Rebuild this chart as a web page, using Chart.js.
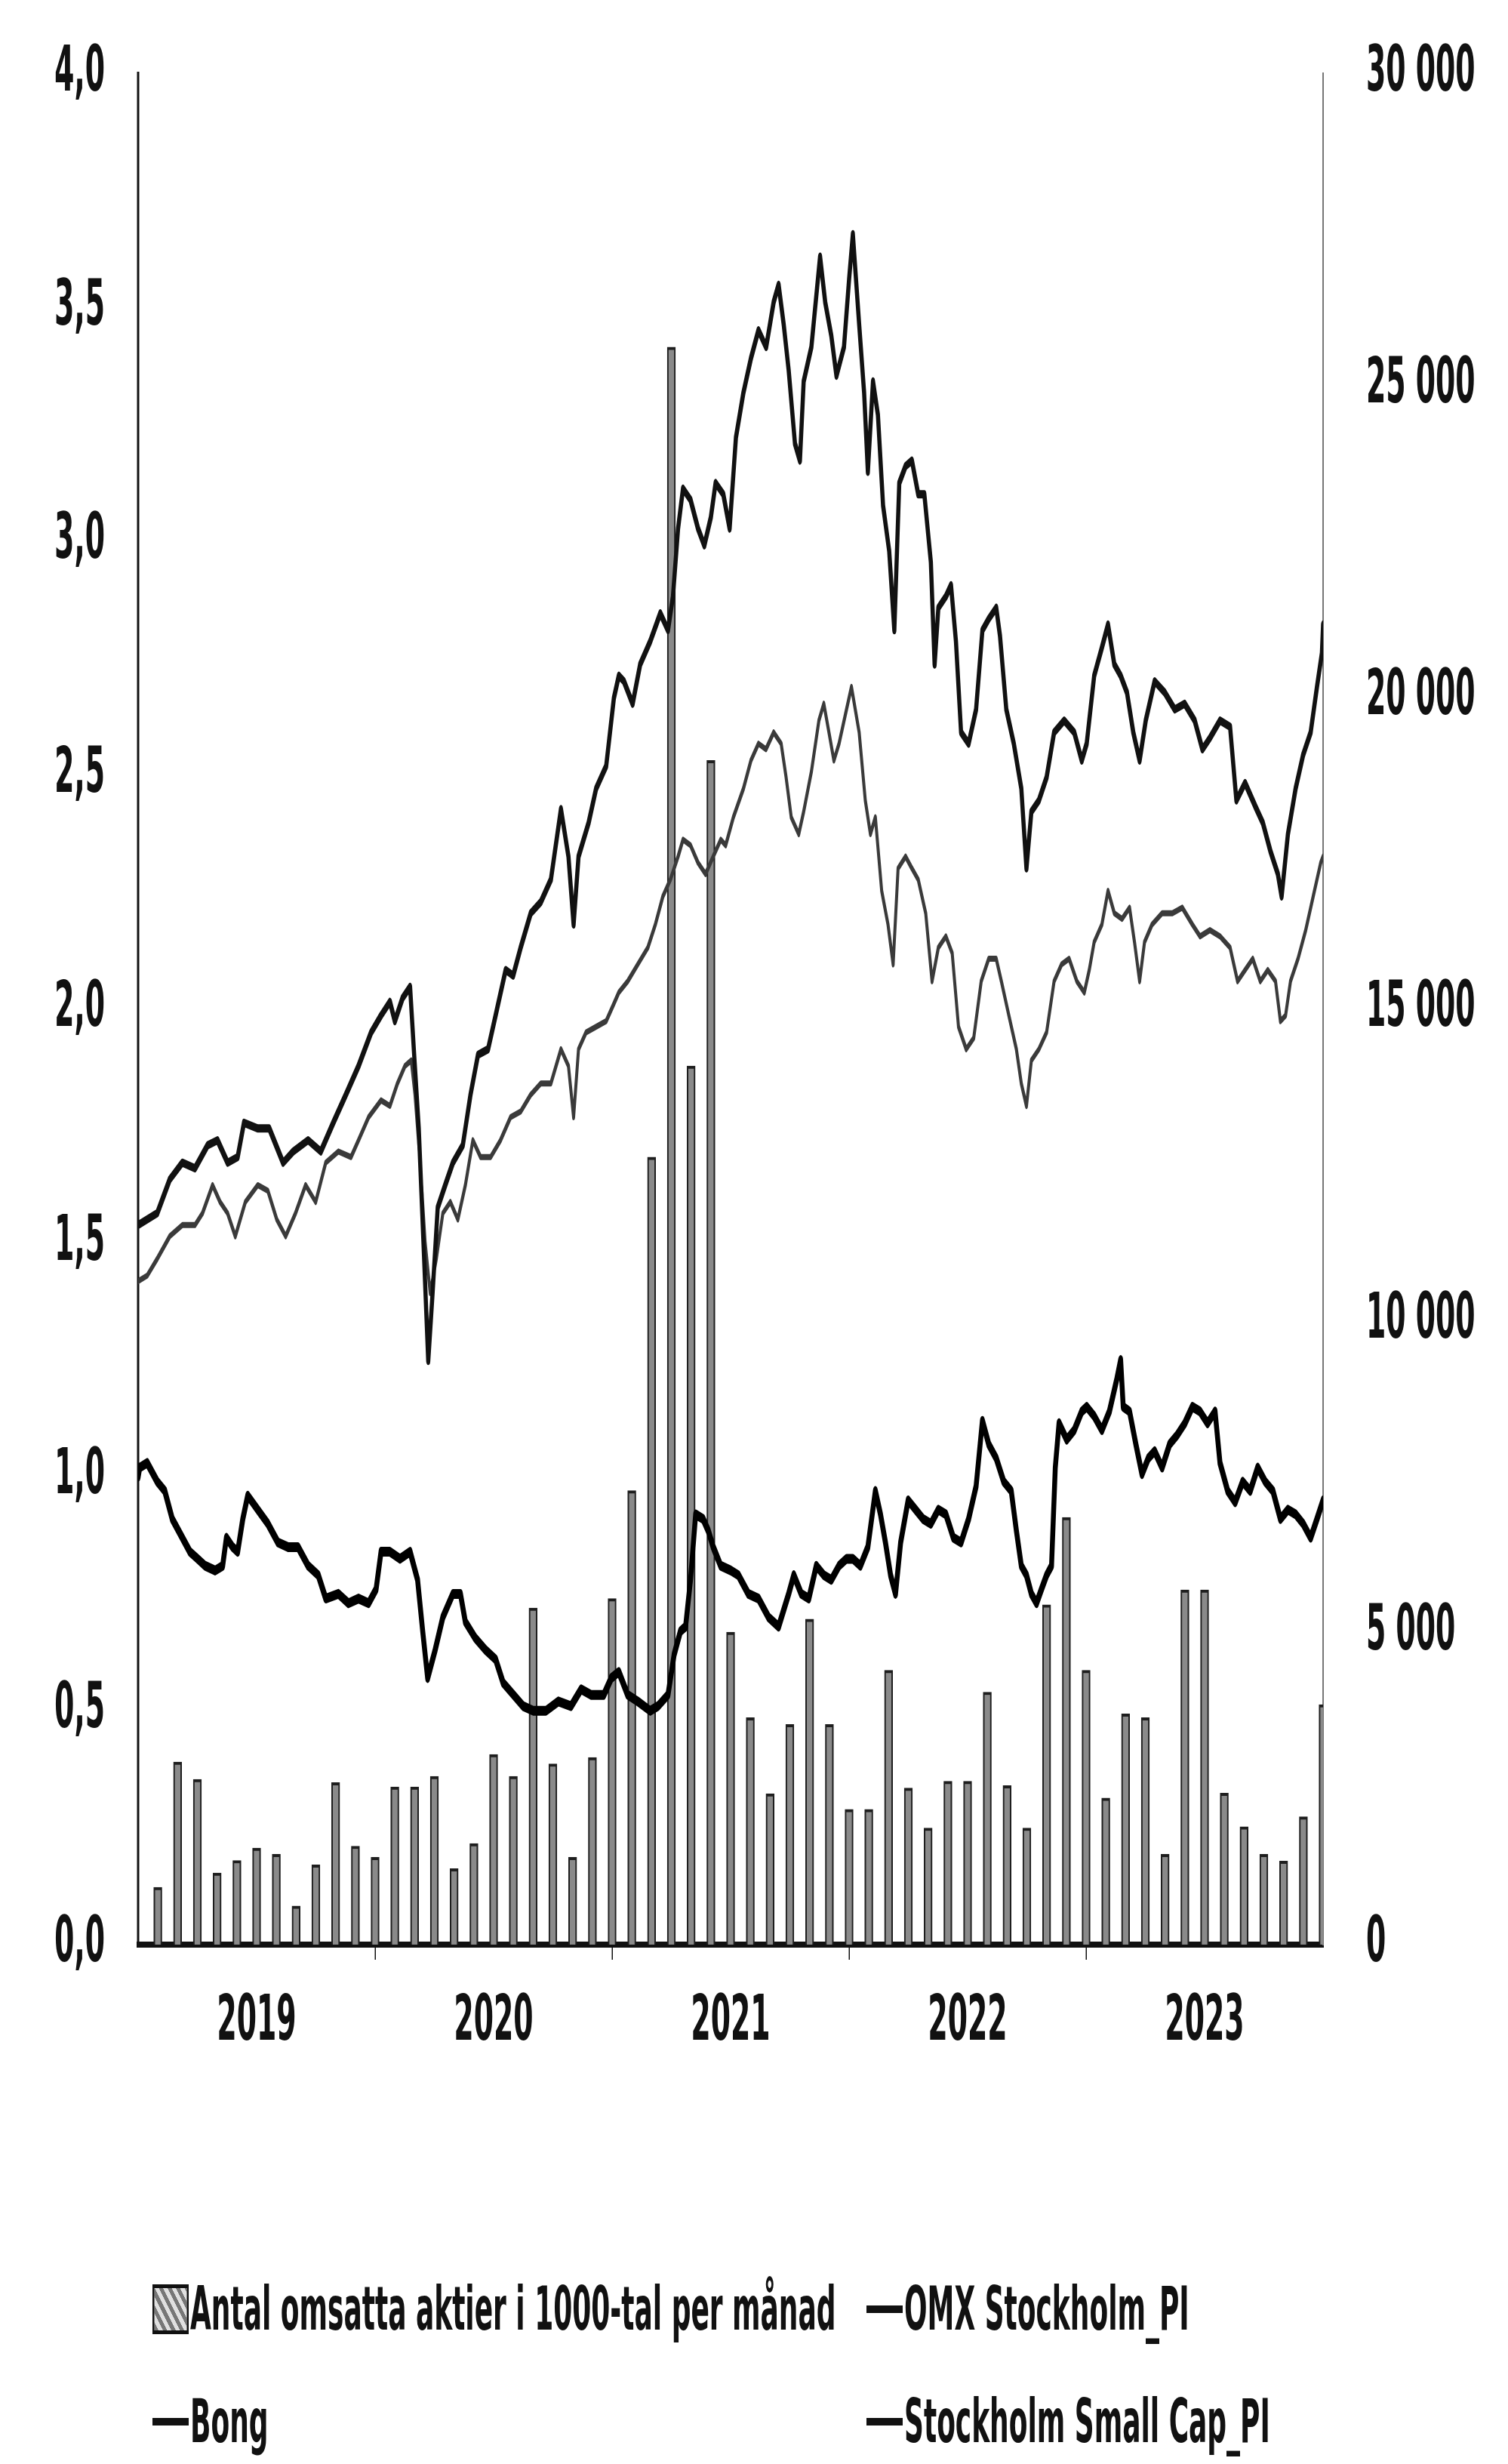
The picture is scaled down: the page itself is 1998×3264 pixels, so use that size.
<!DOCTYPE html>
<html>
<head>
<meta charset="utf-8">
<script src="https://cdn.jsdelivr.net/npm/chart.js@4.4.1/dist/chart.umd.min.js"></script>
<style>
  html, body { margin: 0; padding: 0; background: #fff; overflow: hidden; }
  body { width: 1998px; height: 3264px; position: relative; }
  /* the original picture is squeezed 2:1 horizontally, so draw wide and squeeze */
  #stretch { position: absolute; left: 0; top: 0; width: 3996px; height: 3264px; transform: scaleX(0.5); transform-origin: 0 0; }
  #chart { position: absolute; left: 0; top: 0; }
  .legend-item { position: absolute; display: flex; align-items: center; transform: translateY(-50%);
    font: bold 80px 'Liberation Sans Narrow', 'DejaVu Sans Condensed', 'Liberation Sans', sans-serif;
    color: #111; white-space: nowrap; line-height: 1; }
  .swatch-bar { width: 96px; height: 66px; box-sizing: border-box; border: 5px solid #111; margin-right: 4px;
    background: repeating-linear-gradient(45deg, #777 0 8px, #e0e0e0 8px 16px); }
  .swatch-line { width: 96px; height: 10px; background: #111; margin-right: 4px; }
</style>
</head>
<body>
<div id="stretch">
  <canvas id="chart" width="3996" height="3264"></canvas>
  <div class="legend-item" style="left:404px; top:3059px;"><span class="swatch-bar"></span>Antal omsatta aktier i 1000-tal per månad</div>
  <div class="legend-item" style="left:2296px; top:3059px;"><span class="swatch-line"></span>OMX Stockholm_PI</div>
  <div class="legend-item" style="left:404px; top:3208px;"><span class="swatch-line"></span>Bong</div>
  <div class="legend-item" style="left:2296px; top:3208px;"><span class="swatch-line"></span>Stockholm Small Cap_PI</div>
</div>
<script>
// x values are months since 1 Jan 2019 (0 = start of 2019, 60 = end of 2023)
const yearLabels = ['2019', '2020', '2021', '2022', '2023'];

// shares traded per month, in thousands (bar at each month end)
const volumeValues = [
    920, 2930, 2650, 1150, 1350, 1550, 1450, 620, 1280, 2600, 1580, 1400,
    2530, 2530, 2700, 1220, 1620, 3050, 2700, 5400, 2900, 1400, 3000, 5550,
    7280, 12630, 25620, 14090, 18990, 5010, 3640, 2420, 3530, 5220, 3530, 2170,
    2170, 4400, 2510, 1870, 2620, 2620, 4050, 2550, 1870, 5450, 6850, 4400,
    2350, 3700, 3640, 1450, 5690, 5690, 2430, 1890, 1450, 1340, 2050, 3850
];

// Bong share price, left axis
const bongPoints = [
    [0, 1.00], [0.08, 1.02], [0.46, 1.03], [0.97, 0.99], [1.35, 0.97], [1.73, 0.91], [2.24, 0.87], [2.62, 0.84],
    [3.01, 0.825], [3.39, 0.81], [3.9, 0.80], [4.28, 0.81], [4.47, 0.87], [4.79, 0.85], [5.04, 0.84], [5.3, 0.91],
    [5.55, 0.96], [6.06, 0.93], [6.57, 0.90], [7.08, 0.86], [7.59, 0.85], [8.1, 0.85], [8.61, 0.81], [9.12, 0.79],
    [9.5, 0.74], [10.14, 0.75], [10.65, 0.73], [11.16, 0.74], [11.67, 0.73], [12.05, 0.76], [12.3, 0.84],
    [12.75, 0.84], [13.26, 0.825], [13.77, 0.84], [14.15, 0.78], [14.41, 0.67], [14.66, 0.57], [15.04, 0.63],
    [15.43, 0.70], [15.94, 0.75], [16.32, 0.75], [16.57, 0.69], [17.08, 0.655], [17.59, 0.63], [18.1, 0.61],
    [18.48, 0.56], [18.99, 0.535], [19.5, 0.51], [20.01, 0.50], [20.65, 0.50], [21.28, 0.52], [21.92, 0.51],
    [22.43, 0.546], [22.94, 0.534], [23.58, 0.534], [23.96, 0.57], [24.34, 0.583],
    [24.79, 0.534], [25.3, 0.52], [25.93, 0.50], [26.32, 0.51], [26.83, 0.534], [27.14, 0.62], [27.46, 0.67],
    [27.72, 0.68], [27.97, 0.78], [28.23, 0.92], [28.61, 0.91], [28.87, 0.885], [29.12, 0.85], [29.5, 0.81],
    [30.01, 0.80], [30.39, 0.79], [30.9, 0.75], [31.41, 0.74], [31.92, 0.70], [32.43, 0.68], [32.94, 0.75],
    [33.2, 0.79], [33.58, 0.75], [33.96, 0.74], [34.34, 0.81], [34.72, 0.79], [35.1, 0.78], [35.49, 0.81], [35.87, 0.825],
    [36.19, 0.825], [36.57, 0.81], [36.95, 0.85], [37.33, 0.97], [37.59, 0.92], [37.84, 0.86], [38.1, 0.79],
    [38.35, 0.75], [38.61, 0.86], [38.99, 0.95], [39.37, 0.93], [39.75, 0.91], [40.14, 0.90], [40.52, 0.93],
    [40.9, 0.92], [41.28, 0.87], [41.67, 0.86], [42.05, 0.91], [42.43, 0.98], [42.75, 1.12], [43.07, 1.07],
    [43.45, 1.04], [43.83, 0.99], [44.21, 0.97], [44.47, 0.885], [44.72, 0.81], [44.98, 0.79], [45.23, 0.75],
    [45.49, 0.73], [45.74, 0.76], [46.0, 0.79], [46.25, 0.81], [46.44, 1.02], [46.63, 1.115], [47.02, 1.08],
    [47.4, 1.10], [47.78, 1.14],
    [48.03, 1.15], [48.41, 1.13], [48.8, 1.10], [49.18, 1.14], [49.56, 1.21], [49.75, 1.25], [49.88, 1.15],
    [50.2, 1.14], [50.52, 1.07], [50.83, 1.006], [51.15, 1.04], [51.47, 1.055], [51.85, 1.02], [52.23, 1.07],
    [52.62, 1.09], [53.0, 1.115], [53.38, 1.15], [53.77, 1.14], [54.15, 1.115], [54.53, 1.14], [54.78, 1.03],
    [55.17, 0.97], [55.55, 0.946], [55.93, 0.99], [56.31, 0.97], [56.69, 1.02], [57.07, 0.99], [57.46, 0.97],
    [57.84, 0.91], [58.22, 0.93], [58.61, 0.92], [58.99, 0.90], [59.37, 0.87], [59.69, 0.91], [60, 0.95]
];

// OMX Stockholm_PI, right axis
const omxPoints = [
    [0, 10640], [0.46, 10730], [0.97, 11000], [1.6, 11360], [2.24, 11540], [2.88, 11540], [3.26, 11730],
    [3.77, 12180], [4.15, 11910], [4.53, 11730], [4.92, 11360], [5.43, 11910], [6.06, 12180], [6.57, 12090],
    [7.02, 11630], [7.47, 11360], [7.97, 11730], [8.48, 12180], [8.99, 11910], [9.5, 12540], [10.14, 12720],
    [10.78, 12630], [11.16, 12900], [11.67, 13270], [12.3, 13540],
    [12.75, 13450], [13.13, 13810], [13.51, 14090], [13.83, 14180], [14.02, 13630], [14.28, 12540], [14.53, 11270],
    [14.79, 10450], [15.1, 11000], [15.43, 11730], [15.81, 11910], [16.19, 11630], [16.57, 12180], [16.95, 12900],
    [17.34, 12630], [17.85, 12630], [18.35, 12900], [18.86, 13270], [19.37, 13360], [19.88, 13630], [20.39, 13810],
    [20.9, 13810], [21.41, 14360], [21.79, 14090], [22.05, 13270], [22.3, 14360], [22.68, 14630], [23.19, 14720],
    [23.7, 14810], [24.09, 15090], [24.34, 15270],
    [24.79, 15450], [25.3, 15720], [25.81, 15990], [26.19, 16360], [26.57, 16810], [26.95, 17080], [27.34, 17450],
    [27.59, 17720], [27.97, 17630], [28.35, 17350], [28.73, 17170], [29.12, 17450], [29.5, 17720], [29.75, 17630],
    [30.14, 18080], [30.65, 18540], [31.03, 18990], [31.41, 19260], [31.79, 19170], [32.18, 19440], [32.56, 19260],
    [32.81, 18720], [33.07, 18080], [33.45, 17810], [33.7, 18170], [34.09, 18810], [34.47, 19630], [34.72, 19900],
    [34.98, 19440], [35.23, 18990], [35.49, 19260], [35.87, 19810], [36.12, 20170],
    [36.51, 19440], [36.82, 18350], [37.08, 17810], [37.33, 18080], [37.65, 16900], [37.97, 16360], [38.23, 15720],
    [38.48, 17260], [38.86, 17450], [39.18, 17260], [39.5, 17080], [39.88, 16540], [40.2, 15450], [40.52, 15990],
    [40.9, 16170], [41.22, 15900], [41.54, 14720], [41.93, 14360], [42.31, 14540], [42.69, 15450], [43.07, 15810],
    [43.45, 15810], [43.71, 15450], [44.09, 14900], [44.47, 14360], [44.72, 13810], [44.98, 13450], [45.23, 14180],
    [45.61, 14360], [46.0, 14630], [46.38, 15450], [46.76, 15720], [47.14, 15810], [47.53, 15450], [47.91, 15270],
    [48.16, 15630], [48.41, 16080], [48.8, 16360], [49.11, 16900], [49.43, 16540], [49.82, 16450], [50.2, 16630],
    [50.45, 16080], [50.71, 15450], [50.96, 16080], [51.34, 16360], [51.85, 16540], [52.36, 16540], [52.87, 16630],
    [53.38, 16360], [53.77, 16170], [54.27, 16270], [54.78, 16170], [55.29, 15990], [55.67, 15450], [56.05, 15630],
    [56.44, 15810], [56.82, 15450], [57.2, 15630], [57.59, 15450], [57.84, 14810], [58.1, 14900], [58.35, 15450],
    [58.73, 15810], [59.12, 16270], [59.5, 16810], [59.88, 17350], [60, 17450]
];

// Stockholm Small Cap_PI, right axis
const smallCapPoints = [
    [0, 11540], [0.97, 11730], [1.6, 12270], [2.24, 12540], [2.88, 12450], [3.52, 12820], [4.02, 12900],
    [4.53, 12540], [5.04, 12630], [5.36, 13180], [6.06, 13090], [6.64, 13090], [7.34, 12540], [7.85, 12720],
    [8.61, 12900], [9.25, 12720], [9.88, 13180], [10.52, 13630], [11.16, 14090], [11.8, 14630], [12.3, 14900],
    [12.75, 15120], [13.0, 14810], [13.39, 15180], [13.77, 15360], [13.96, 14360], [14.21, 13090], [14.47, 11090],
    [14.69, 9360], [14.91, 10450], [15.17, 11820], [15.55, 12180], [15.94, 12540], [16.44, 12820], [16.83, 13630],
    [17.21, 14270], [17.72, 14360], [18.1, 14900], [18.61, 15630], [18.99, 15540], [19.37, 15990], [19.88, 16540],
    [20.39, 16720], [20.9, 17080], [21.41, 18210], [21.79, 17450], [22.05, 16360], [22.3, 17450], [22.81, 17990],
    [23.19, 18540], [23.7, 18900], [24.09, 19990], [24.34, 20350],
    [24.6, 20260], [25.04, 19900], [25.42, 20530], [25.93, 20900], [26.44, 21350], [26.83, 21080], [27.08, 21620],
    [27.34, 22710], [27.59, 23350], [27.97, 23170], [28.35, 22710], [28.67, 22440], [29.0, 22890], [29.24, 23440],
    [29.63, 23260], [29.95, 22710], [30.27, 24170], [30.65, 24890], [31.03, 25440], [31.41, 25890], [31.8, 25620],
    [32.18, 26340], [32.43, 26620], [32.69, 25980], [32.94, 25250], [33.26, 24070], [33.51, 23800], [33.7, 25070],
    [34.09, 25620], [34.53, 27070], [34.79, 26340], [35.1, 25800], [35.36, 25160], [35.74, 25620], [36.0, 26710],
    [36.19, 27430],
    [36.51, 25980], [36.76, 24890], [36.95, 23620], [37.21, 25070], [37.46, 24530], [37.72, 23080], [38.03, 22350],
    [38.29, 21080], [38.54, 23440], [38.86, 23710], [39.18, 23800], [39.5, 23260], [39.81, 23260], [40.14, 22170],
    [40.33, 20530], [40.52, 21440], [40.9, 21620], [41.16, 21800], [41.41, 20900], [41.67, 19440], [42.05, 19260],
    [42.43, 19810], [42.75, 21080], [43.07, 21260], [43.45, 21440], [43.64, 20990], [43.96, 19810], [44.34, 19260],
    [44.72, 18540], [44.98, 17260], [45.23, 18170], [45.61, 18350], [46.0, 18720], [46.38, 19440], [46.89, 19630],
    [47.4, 19440], [47.78, 18990],
    [48.03, 19260], [48.41, 20350], [48.8, 20800], [49.11, 21170], [49.43, 20530], [49.75, 20350], [50.07, 20080],
    [50.39, 19440], [50.71, 18990], [51.02, 19630], [51.47, 20260], [51.98, 20080], [52.49, 19810], [52.99, 19900],
    [53.5, 19630], [53.89, 19170], [54.27, 19350], [54.78, 19630], [55.29, 19530], [55.61, 18350], [56.05, 18630],
    [56.56, 18260], [56.95, 17990], [57.33, 17540], [57.71, 17170], [57.9, 16810], [58.22, 17810], [58.61, 18540],
    [58.99, 19080], [59.37, 19440], [59.69, 20170], [59.94, 20710], [60, 21170]
];

const toXY = pts => pts.map(p => ({ x: p[0], y: p[1] }));

const labelFont = {
    family: "'Liberation Sans Narrow', 'DejaVu Sans Condensed', 'Liberation Sans', sans-serif",
    size: 84,
    weight: 'bold',
    lineHeight: 1.2
};

// canvas is 3996 wide (shown at half width); plot spans 366..3506 x 98..2576
const X_AXIS_HEIGHT = 170;

// keep the big tick padding from pushing the plot top down
const fitVertical = width => s => {
    s.width = width;
    s.paddingTop = 0;
    s.paddingBottom = 0;
};

const lineStyle = {
    type: 'line',
    pointRadius: 0,
    tension: 0,
    borderJoinStyle: 'round',
    borderCapStyle: 'round'
};

new Chart(document.getElementById('chart'), {
    data: {
        datasets: [
            {
                ...lineStyle,
                label: 'OMX Stockholm_PI',
                data: toXY(omxPoints),
                yAxisID: 'y1',
                borderColor: '#3a3a3a',
                borderWidth: 8,
                order: 2
            },
            {
                ...lineStyle,
                label: 'Stockholm Small Cap_PI',
                data: toXY(smallCapPoints),
                yAxisID: 'y1',
                borderColor: '#111111',
                borderWidth: 11,
                order: 1
            },
            {
                ...lineStyle,
                label: 'Bong',
                data: toXY(bongPoints),
                yAxisID: 'y',
                borderColor: '#000000',
                borderWidth: 13,
                order: 0
            },
            {
                type: 'bar',
                label: 'Antal omsatta aktier i 1000-tal per månad',
                data: volumeValues.map((v, i) => ({ x: i + 1, y: v })),
                yAxisID: 'y1',
                backgroundColor: '#8a8a8a',
                borderColor: '#1e1e1e',
                borderWidth: 4,
                barThickness: 22,
                order: 10
            }
        ]
    },
    options: {
        responsive: false,
        animation: false,
        devicePixelRatio: 1,
        layout: {
            padding: { top: 98, bottom: 3264 - 2576 - X_AXIS_HEIGHT, left: 0, right: 0 }
        },
        plugins: {
            legend: { display: false },
            tooltip: { enabled: false }
        },
        scales: {
            x: {
                type: 'linear',
                min: 0,
                max: 60,
                offset: false,
                afterFit: s => { s.height = X_AXIS_HEIGHT; },
                ticks: {
                    stepSize: 6,
                    autoSkip: false,
                    maxRotation: 0,
                    padding: 34,
                    color: '#111',
                    font: labelFont,
                    callback: v => (v % 12 === 6 ? yearLabels[(v - 6) / 12] : '')
                },
                grid: {
                    offset: false,
                    drawOnChartArea: false,
                    drawTicks: true,
                    tickLength: 20,
                    lineWidth: 3,
                    color: ctx => (ctx.tick && ctx.tick.value % 12 === 0 && ctx.tick.value > 0 && ctx.tick.value < 60)
                        ? '#111' : 'rgba(0,0,0,0)'
                },
                border: { color: '#111', width: 8 }
            },
            y: {
                position: 'left',
                min: 0,
                max: 4,
                afterFit: fitVertical(366),
                ticks: {
                    stepSize: 0.5,
                    padding: 88,
                    color: '#111',
                    font: labelFont,
                    callback: v => v.toFixed(1).replace('.', ',')
                },
                grid: { display: false, drawTicks: false },
                border: { color: '#111', width: 6 }
            },
            y1: {
                position: 'right',
                min: 0,
                max: 30000,
                afterFit: fitVertical(3996 - 3506),
                ticks: {
                    stepSize: 5000,
                    padding: 114,
                    color: '#111',
                    font: labelFont,
                    callback: v => String(v).replace(/\B(?=(\d{3})+(?!\d))/g, ' ')
                },
                grid: { display: false, drawTicks: false },
                border: { color: '#777', width: 4, dash: [10, 10] }
            }
        }
    }
});
</script>
</body>
</html>
